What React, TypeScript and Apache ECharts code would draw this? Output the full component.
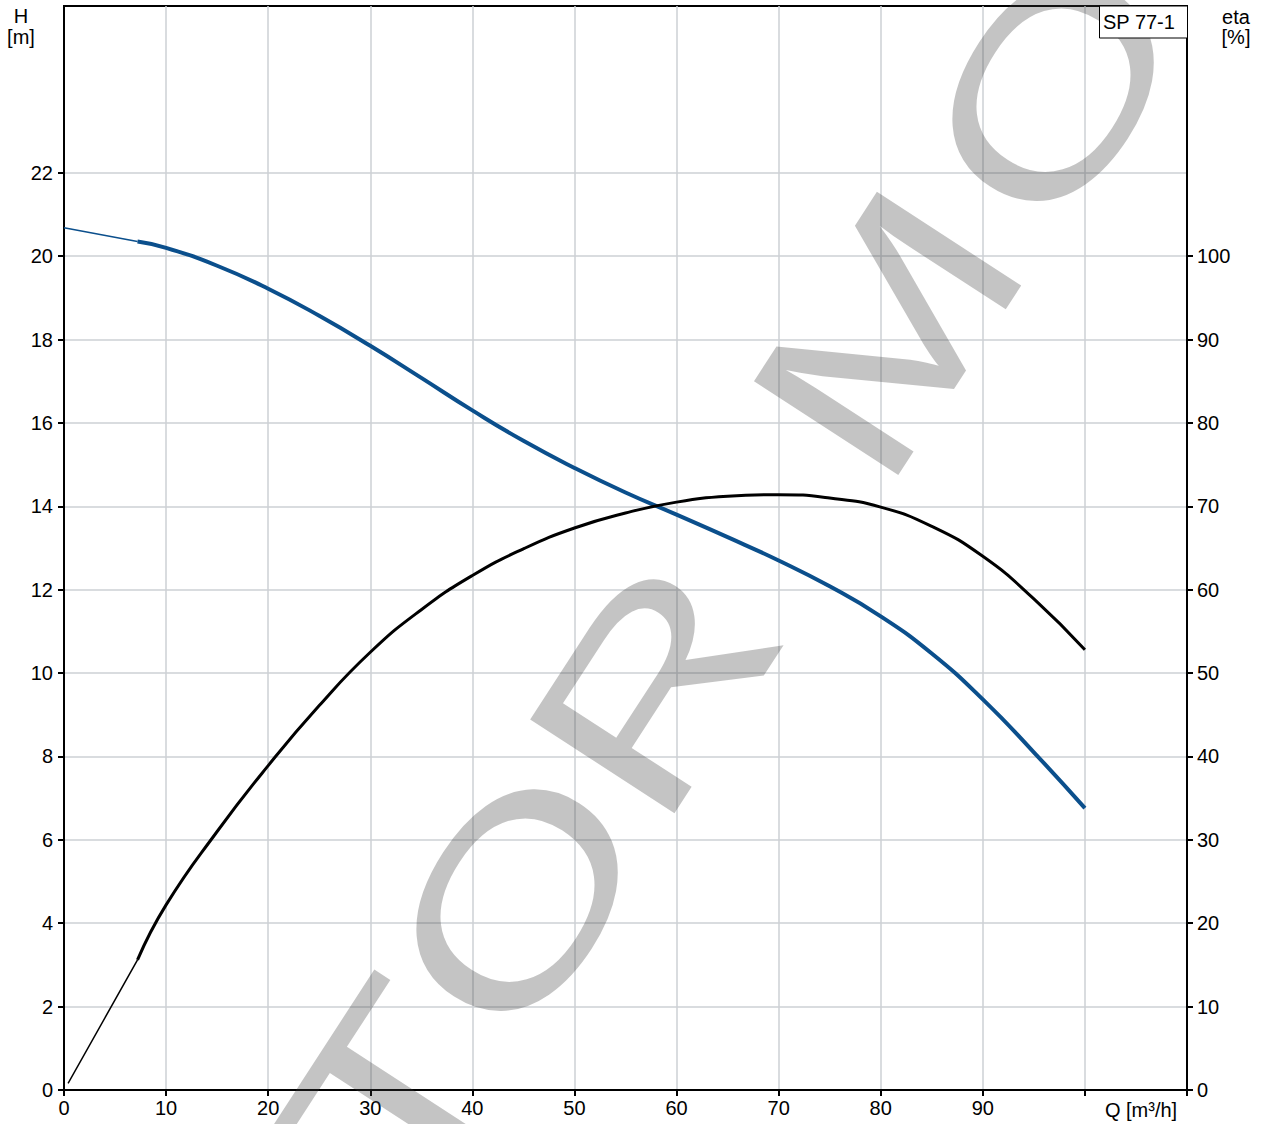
import React, { useEffect, useRef } from "react";
import * as echarts from "echarts";

// Pump H-Q curve (head, m) — thin start segment and thick main segment
const Q_H_START = [0, 7.2];
const H_START = [20.68, 20.35];
const Q_H = [7.2, 10, 15, 20, 25, 30, 35, 40, 45, 50, 55, 60, 65, 70, 75, 80, 85, 90, 95, 100];
const H_MAIN = [20.35, 20.2, 19.77, 19.22, 18.57, 17.85, 17.08, 16.3, 15.57, 14.92, 14.33, 13.8, 13.26, 12.7, 12.08, 11.36, 10.47, 9.37, 8.1, 6.76];

// Efficiency curve (eta, %)
const Q_ETA_START = [0.4, 7.2];
const ETA_START = [0.8, 15.6];
const Q_ETA = [7.2, 10, 15, 20, 25, 30, 35, 40, 45, 50, 55, 60, 65, 70, 75, 80, 85, 90, 95, 100];
const ETA_MAIN = [15.6, 22.2, 31.0, 38.9, 46.1, 52.5, 57.6, 61.7, 64.9, 67.4, 69.2, 70.5, 71.2, 71.4, 71.0, 69.9, 67.6, 64.0, 58.9, 52.8];

// Tick labels
const X_LABELS = [0, 10, 20, 30, 40, 50, 60, 70, 80, 90];
const H_LABELS = [0, 2, 4, 6, 8, 10, 12, 14, 16, 18, 20, 22];
const ETA_LABELS = [0, 10, 20, 30, 40, 50, 60, 70, 80, 90, 100];

const MODEL = "SP 77-1";
const WATERMARK = ["T", "O", "R", "M", "O"];
const WM_POS: [number, number][] = [
  [394, 1096],
  [517, 900],
  [653, 687],
  [887, 333],
  [1053, 90],
];

const FONT = "Liberation Sans, Arial, sans-serif";

function pairs(xs: number[], ys: number[]) {
  return xs.map((x, i) => [x, ys[i]]);
}

export default function App() {
  const ref = useRef<HTMLDivElement>(null);
  useEffect(() => {
    if (!ref.current) return;
    const chart = echarts.init(ref.current, undefined, { renderer: "svg" });
    const blue = "#0b4f8c";
    const gridColor = "#cdd1d5";
    const rot = (57 * Math.PI) / 180;
    const option: any = {
      animation: false,
      backgroundColor: "#fff",
      textStyle: { fontFamily: FONT },
      grid: {
        left: 64,
        top: 6,
        width: 1123,
        height: 1084,
        show: true,
        borderColor: "#000",
        borderWidth: 2,
        backgroundColor: "transparent",
      },
      xAxis: {
        type: "value",
        min: 0,
        max: 110,
        interval: 10,
        axisLine: { onZero: false, lineStyle: { color: "#000", width: 2 } },
        axisTick: { show: true, inside: false, length: 6, lineStyle: { color: "#000", width: 2 } },
        axisLabel: {
          color: "#000",
          fontSize: 20,
          fontFamily: FONT,
          margin: 8,
          customValues: X_LABELS,
        },
        splitLine: { show: true, lineStyle: { color: gridColor, width: 1.5 } },
      },
      yAxis: [
        {
          type: "value",
          min: 0,
          max: 26,
          interval: 2,
          position: "left",
          axisLine: { show: true, onZero: false, lineStyle: { color: "#000", width: 2 } },
          axisTick: {
            show: true,
            inside: false,
            length: 6,
            lineStyle: { color: "#000", width: 2 },
            customValues: H_LABELS,
          },
          axisLabel: {
            color: "#000",
            fontSize: 20,
            fontFamily: FONT,
            margin: 11,
            customValues: H_LABELS,
          },
          splitLine: { show: true, lineStyle: { color: gridColor, width: 1.5 } },
        },
        {
          type: "value",
          min: 0,
          max: 130,
          interval: 10,
          position: "right",
          axisLine: { show: true, onZero: false, lineStyle: { color: "#000", width: 2 } },
          axisTick: {
            show: true,
            inside: false,
            length: 6,
            lineStyle: { color: "#000", width: 2 },
            customValues: ETA_LABELS,
          },
          axisLabel: {
            color: "#000",
            fontSize: 20,
            fontFamily: FONT,
            margin: 10,
            customValues: ETA_LABELS,
          },
          splitLine: { show: false },
        },
      ],
      graphic: [
        ...WATERMARK.map((ch, i) => ({
          type: "text",
          x: WM_POS[i][0],
          y: WM_POS[i][1],
          rotation: rot,
          scaleX: 1.35,
          z: 1,
          silent: true,
          style: {
            text: ch,
            fontSize: 250,
            fontFamily: FONT,
            fill: "rgba(60,60,60,0.3)",
            align: "center",
            verticalAlign: "middle",
          },
        })),
        {
          type: "rect",
          z: 5,
          shape: { x: 1099.5, y: 6, width: 88, height: 32 },
          style: { fill: "#fff", stroke: "#000", lineWidth: 1 },
        },
        {
          type: "text",
          z: 6,
          x: 1103,
          y: 22,
          style: { text: MODEL, fontSize: 20, fontFamily: FONT, fill: "#000", align: "left", verticalAlign: "middle" },
        },
        {
          type: "text",
          x: 21,
          y: 16,
          style: { text: "H", fontSize: 20, fontFamily: FONT, fill: "#000", align: "center", verticalAlign: "middle" },
        },
        {
          type: "text",
          x: 21,
          y: 37,
          style: { text: "[m]", fontSize: 20, fontFamily: FONT, fill: "#000", align: "center", verticalAlign: "middle" },
        },
        {
          type: "text",
          x: 1236,
          y: 17,
          style: { text: "eta", fontSize: 20, fontFamily: FONT, fill: "#000", align: "center", verticalAlign: "middle" },
        },
        {
          type: "text",
          x: 1236,
          y: 37,
          style: { text: "[%]", fontSize: 20, fontFamily: FONT, fill: "#000", align: "center", verticalAlign: "middle" },
        },
        {
          type: "text",
          x: 1141,
          y: 1110,
          style: { text: "Q [m³/h]", fontSize: 20, fontFamily: FONT, fill: "#000", align: "center", verticalAlign: "middle" },
        },
      ],
      series: [
        {
          type: "line",
          name: "H start",
          yAxisIndex: 0,
          data: pairs(Q_H_START, H_START),
          showSymbol: false,
          lineStyle: { color: blue, width: 1.5 },
          z: 3,
        },
        {
          type: "line",
          name: "H",
          yAxisIndex: 0,
          data: pairs(Q_H, H_MAIN),
          smooth: true,
          showSymbol: false,
          lineStyle: { color: blue, width: 4 },
          z: 3,
        },
        {
          type: "line",
          name: "eta start",
          yAxisIndex: 1,
          data: pairs(Q_ETA_START, ETA_START),
          showSymbol: false,
          lineStyle: { color: "#000", width: 1.5 },
          z: 3,
        },
        {
          type: "line",
          name: "eta",
          yAxisIndex: 1,
          data: pairs(Q_ETA, ETA_MAIN),
          smooth: true,
          showSymbol: false,
          lineStyle: { color: "#000", width: 3 },
          z: 3,
        },
      ],
    };
    chart.setOption(option);
    return () => chart.dispose();
  }, []);
  return (
    <div
      ref={ref}
      style={{ position: "absolute", left: 0, top: 0, width: 1287, height: 1124 }}
    />
  );
}
